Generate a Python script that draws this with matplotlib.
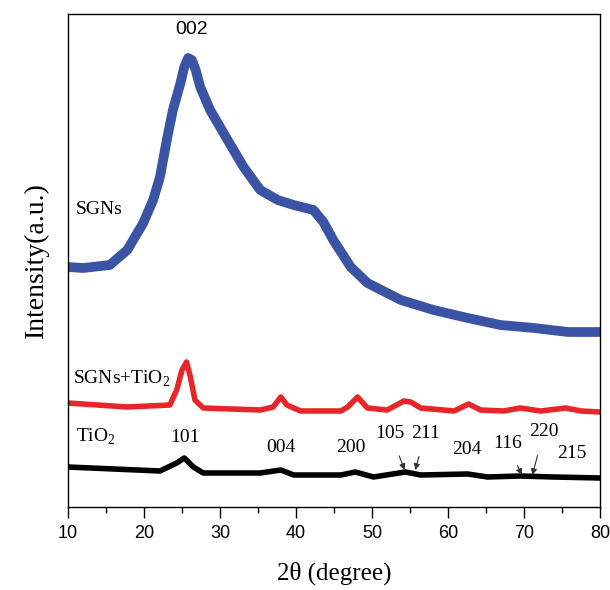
import matplotlib
matplotlib.use("Agg")
import matplotlib.pyplot as plt
from matplotlib.ticker import MultipleLocator

plt.rcParams["mathtext.fontset"] = "custom"
plt.rcParams["mathtext.rm"] = "Liberation Serif"

SERIF = "Liberation Serif"
SANS = "Liberation Sans"

# SGNs pattern (blue)
sgn_x = [10, 12, 15.5, 17.8, 19.9, 21.2, 22.1, 23.0, 23.8, 24.8, 25.3, 25.8,
         26.3, 26.8, 27.4, 28.7, 31.0, 33.1, 35.3, 37.6, 39.7, 42.3, 43.6,
         44.9, 47.2, 49.4, 53.8, 58.1, 62.6, 66.9, 71.3, 75.8, 80]
sgn_y = [240, 239, 242, 257, 284, 307, 330, 367, 397, 424, 440, 449,
         447, 437, 420, 397, 367, 340, 317, 307, 302, 297, 285,
         267, 240, 224, 207, 197, 189, 182, 179, 175, 175]

# SGNs+TiO2 pattern (red)
mix_x = [10, 17.8, 23.4, 24.3, 25.0, 25.6, 26.1, 26.7, 27.8, 35.3, 37.0, 38.0,
         38.8, 40.6, 45.9, 46.8, 48.1, 49.4, 52.0, 54.2, 55.1, 56.4, 60.8,
         62.7, 64.3, 67.3, 69.5, 72.2, 75.5, 77.5, 80]
mix_y = [104, 100, 102, 117, 137, 145, 130, 107, 99, 97, 100, 110,
         102, 96, 96, 100, 110, 99, 97, 106, 105, 99, 96,
         103, 97, 96, 99, 96, 99, 96, 95]

# TiO2 pattern (black)
tio_x = [10, 22.1, 24.3, 25.3, 26.5, 27.8, 35.3, 38.0, 39.7, 45.9, 47.8,
         50.2, 54.4, 56.4, 62.6, 65.2, 69.5, 73.9, 80]
tio_y = [40, 36, 44, 49, 40, 34, 34, 37, 32, 32, 35,
         30, 35, 32, 33, 30, 31, 30, 29]

# peak labels
peak_labels = ["101", "004", "200", "204", "215"]
peak_lx = [25.4, 38.0, 47.2, 62.5, 76.3]
peak_ly = [70, 60, 60, 57, 54]

# arrowed labels: text position and arrow tip
arrow_labels = ["105", "211", "116", "220"]
arrow_tx = [52.4, 57.0, 67.8, 72.6]
arrow_ty = [74, 74, 64, 75]
arrow_px = [54.3, 55.7, 69.7, 71.1]
arrow_py = [37, 37, 32, 32]

fig = plt.figure(figsize=(6.1, 5.9), dpi=100)
ax = fig.add_axes([68 / 610, 1 - 507 / 590, 532 / 610, 493 / 590])

ax.plot(sgn_x, sgn_y, color="#3A53A4", lw=7, solid_joinstyle="round")
ax.plot(mix_x, mix_y, color="#E8262A", lw=4, solid_joinstyle="round")
ax.plot(tio_x, tio_y, color="black", lw=4, solid_joinstyle="round")

ax.set_xlim(10, 80)
ax.set_ylim(0, 493)
ax.set_yticks([])
ax.xaxis.set_major_locator(MultipleLocator(10))
ax.xaxis.set_minor_locator(MultipleLocator(5))
ax.tick_params(axis="x", which="major", length=8, width=1, direction="out",
               labelsize=13, pad=5)
ax.tick_params(axis="x", which="minor", length=4, width=1, direction="out")
for lab in ax.get_xticklabels():
    lab.set_family(SANS)
for sp in ax.spines.values():
    sp.set_linewidth(1.0)

ax.set_xlabel("2θ (degree)", family=SERIF, fontsize=18, labelpad=14)
ax.set_ylabel("Intensity(a.u.)", family=SERIF, fontsize=20, labelpad=14)

ax.text(26.2, 477, "002", family=SANS, fontsize=14, ha="center", va="center")
ax.text(11.0, 297, "SGNs", family=SERIF, fontsize=14, ha="left", va="center")
ax.text(10.6, 128, "SGNs+TiO$_\\mathregular{2}$", family=SERIF, fontsize=14,
        ha="left", va="center")
ax.text(11.0, 70, "TiO$_\\mathregular{2}$", family=SERIF, fontsize=14,
        ha="left", va="center")

for t, x, y in zip(peak_labels, peak_lx, peak_ly):
    ax.text(x, y, t, family=SERIF, fontsize=14, ha="center", va="center")

for t, tx, ty, px, py in zip(arrow_labels, arrow_tx, arrow_ty, arrow_px, arrow_py):
    ax.annotate(t, xy=(px, py), xytext=(tx, ty), family=SERIF, fontsize=14,
                ha="center", va="center",
                arrowprops=dict(arrowstyle="-|>", color="#333333", lw=0.8,
                                mutation_scale=9, shrinkA=9, shrinkB=0))

fig.savefig("out.png", dpi=100)
